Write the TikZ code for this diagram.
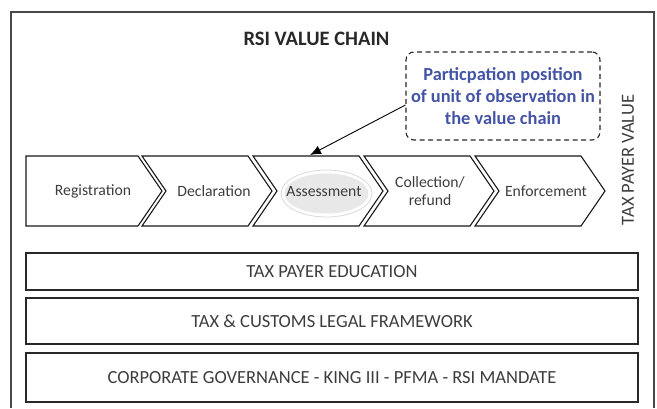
\documentclass[tikz,border=0pt]{standalone}
\usepackage{fontspec}
\setmainfont{Carlito}
\usetikzlibrary{calc,shapes,arrows.meta}
\definecolor{notetext}{RGB}{68,84,165}
\definecolor{ink}{RGB}{40,40,40}

\begin{document}
\begin{tikzpicture}[x=1pt,y=-1pt,
    chev/.style={draw=black!90,line width=1.1pt,line join=miter},
    chevtext/.style={font=\fontsize{15.7}{18.5}\selectfont,text=ink!90,align=center},
    layer/.style={draw=ink,line width=1.2pt,minimum width=612pt,
        font=\fontsize{18.5}{21}\selectfont,text=ink!90,inner sep=0pt}]
    \useasboundingbox (0,0) rectangle (657,408);
    \draw[line width=1.3pt,ink!85] (11,408) -- (11,12) -- (654,12) -- (654,408);
    \node[font=\bfseries\fontsize{20.5}{24}\selectfont,text=ink] (title) at (316.5,39) {RSI VALUE CHAIN};

    % value chain
    \draw[chev] (26,156) -- (138,156) -- (162,191) -- (138,226) -- (26,226) -- cycle;
    \foreach \x in {142,253,364,475}
        \draw[chev] (\x,156) -- ++(106,0) -- ++(24,35) -- ++(-24,35) -- ++(-106,0) -- ++(24,-35) -- cycle;
    \draw[gray!30,line width=0.8pt,fill=white] (326.5,193.5) ellipse [x radius=45.5, y radius=23.5];
    \fill[gray!18] (326.5,193.5) ellipse [x radius=42, y radius=20];
    \node[chevtext] (reg) at (93,191) {Registration};
    \node[chevtext] (dec) at (214,191) {Declaration};
    \node[chevtext] (ass) at (324,192) {Assessment};
    \node[chevtext] (col) at (430,191) {Collection/\\refund};
    \node[chevtext] (enf) at (546,191) {Enforcement};
    \coordinate (asstop) at (310,155);

    \node[draw=ink,line width=1.1pt,dash pattern=on 5pt off 3.5pt,rounded corners=8pt,
        minimum width=194pt,minimum height=88pt,align=center,text=notetext,
        font=\bfseries\fontsize{18.4}{22}\selectfont] (note) at (503,96)
        {Particpation position\\of unit of observation in\\the value chain};
    \draw[-{Latex[length=11pt,width=9pt]},line width=0.9pt] ($(note.west)+(0,9)$) -- (asstop);

    \node[rotate=90,font=\fontsize{18.5}{21}\selectfont,text=ink!90] (tpv) at (628,160) {TAX PAYER VALUE};

    % supporting layers
    \node[layer,minimum height=37pt] (edu) at (332,271.5) {TAX PAYER EDUCATION};
    \node[layer,minimum height=46pt] (legal) at (332,321) {TAX \& CUSTOMS LEGAL FRAMEWORK};
    \node[layer,minimum height=49pt] (gov) at (332,377.5) {CORPORATE GOVERNANCE - KING III - PFMA - RSI MANDATE};
\end{tikzpicture}
\end{document}
